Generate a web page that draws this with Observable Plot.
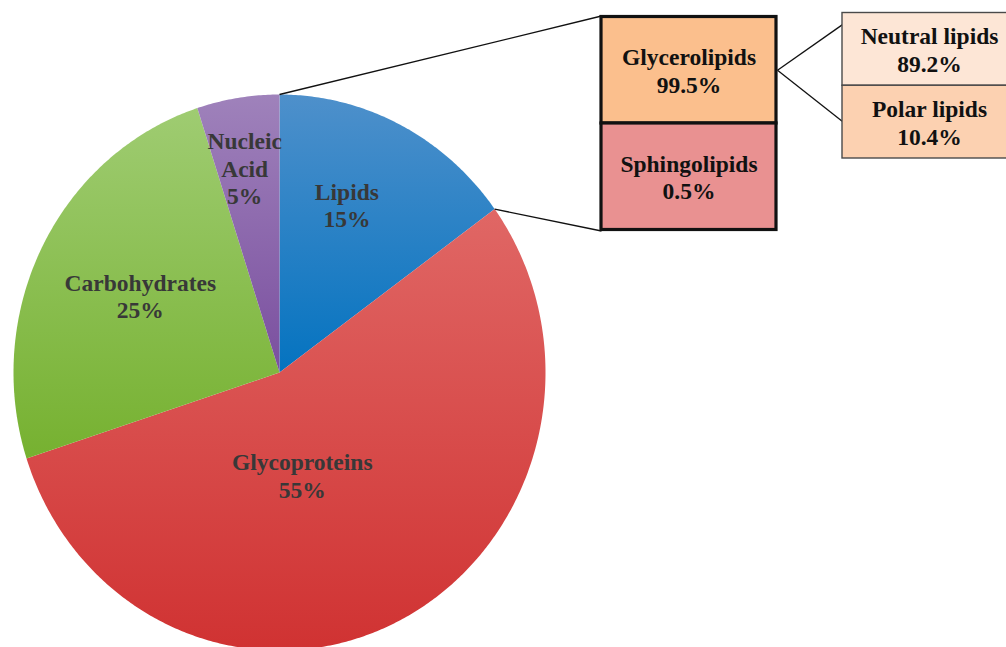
<!DOCTYPE html>
<html><head><meta charset="utf-8">
<script src="https://cdn.jsdelivr.net/npm/d3@7"></script>
<script src="https://cdn.jsdelivr.net/npm/@observablehq/plot@0.6"></script>
<style>
body{margin:0;background:#fff;}
#chart svg{display:block;}
g[aria-label="pie-shadow"]{filter:blur(2px);}
</style></head><body><div id="chart"></div>
<script>
// ---- data ----
const categories = ["Lipids", "Glycoproteins", "Carbohydrates", "Nucleic Acid"];
const categoryLabels = ["Lipids", "Glycoproteins", "Carbohydrates", "Nucleic\nAcid"];
const shares = [15, 55, 25, 5];
const lipidClasses = ["Glycerolipids", "Sphingolipids"];
const lipidShares = [99.5, 0.5];
const glyceroClasses = ["Neutral lipids", "Polar lipids"];
const glyceroShares = [89.2, 10.4];

// ---- styling / layout ----
const W = 1006, H = 647;
const pie = {cx: 279, cy: 372, rx: 266, ry: 278};
const sliceTop = ["#4e90cb", "#e06765", "#9fcc72", "#9f82bb"];
const sliceBottom = ["#0473c0", "#d03232", "#76b130", "#7a4f9f"];
const labelAngle = [22.75, 167, 297.9, 349.9];   // degrees clockwise from 12 o'clock
const labelRadius = [0.655, 0.38, 0.592, 0.747]; // fraction of radius
const lipidBox = {x1: 601, x2: 776, y1: 16.5, y2: 229.5};
const lipidFills = ["#fbbf8d", "#e99191"];
const glyceroBox = {x1: 842, x2: 1018, y1: 12.5, y2: 158};
const glyceroFills = ["#fde6d6", "#fcd1b1"];
const fontFamily = "'Liberation Serif', 'Times New Roman', serif";

const rad = d => d * Math.PI / 180;
const pt = (deg, f = 1) => [pie.cx + pie.rx * f * Math.sin(rad(deg)), pie.cy - pie.ry * f * Math.cos(rad(deg))];

// slice polygons from shares
const total = d3.sum(shares);
let acc = 0;
const slices = shares.map((v, i) => {
  const a0 = acc / total * 360; acc += v; const a1 = acc / total * 360;
  return {i, a0, a1};
});
const slicePts = slices.flatMap(({i, a0, a1}) => {
  const n = Math.max(2, Math.ceil((a1 - a0) / 0.5));
  const pts = [{i, x: pie.cx, y: pie.cy}];
  for (let k = 0; k <= n; k++) {
    const [x, y] = pt(a0 + (a1 - a0) * k / n);
    pts.push({i, x, y});
  }
  pts.push({i, x: pie.cx, y: pie.cy});
  return pts;
});
const ellipsePts = d3.range(0, 361, 1).map(a => { const [x, y] = pt(a); return {x: x + 1.5, y: y + 2}; });

const pieLabels = categories.map((c, i) => {
  const [x, y] = pt(labelAngle[i], labelRadius[i]);
  return {x, y, text: `${categoryLabels[i]}\n${shares[i]}%`};
});

const lipidH = (lipidBox.y2 - lipidBox.y1) / lipidClasses.length;
const lipidRects = lipidClasses.map((c, i) => ({
  x1: lipidBox.x1, x2: lipidBox.x2, y1: lipidBox.y1 + i * lipidH, y2: lipidBox.y1 + (i + 1) * lipidH,
  fill: lipidFills[i], text: `${c}\n${lipidShares[i]}%`
}));
const glyH = (glyceroBox.y2 - glyceroBox.y1) / glyceroClasses.length;
const glyRects = glyceroClasses.map((c, i) => ({
  x1: glyceroBox.x1, x2: glyceroBox.x2, y1: glyceroBox.y1 + i * glyH, y2: glyceroBox.y1 + (i + 1) * glyH,
  fill: glyceroFills[i], text: `${c}\n${glyceroShares[i]}%`
}));

// connectors: lipids slice edges -> lipid box corners; glycerolipids -> sub-boxes
const lipidSlice = slices[0];
const [tA, tB] = [pt(lipidSlice.a0), pt(lipidSlice.a1)];
const gMidY = (lipidRects[0].y1 + lipidRects[0].y2) / 2;
const links = [
  {x1: tA[0], y1: tA[1], x2: lipidBox.x1, y2: lipidBox.y1 - 1},
  {x1: tB[0], y1: tB[1], x2: lipidBox.x1, y2: lipidBox.y2 + 1},
  {x1: lipidBox.x2 + 1, y1: gMidY, x2: glyceroBox.x1, y2: glyceroBox.y1 + glyH * 0.16},
  {x1: lipidBox.x2 + 1, y1: gMidY, x2: glyceroBox.x1, y2: glyceroBox.y1 + glyH * 1.49}
];

const textOpts = {fontFamily, fontWeight: "bold", fontSize: 23.5, lineHeight: 1.17};

const svg = Plot.plot({
  width: W, height: H, margin: 0,
  x: {domain: [0, W], range: [0, W], axis: null},
  y: {domain: [0, H], range: [0, H], axis: null},
  style: {background: "#fff"},
  marks: [
    Plot.line(ellipsePts, {x: "x", y: "y", fill: "#9a9a9a", stroke: "none", ariaLabel: "pie-shadow"}),
    ...slices.map(s => Plot.line(slicePts.filter(d => d.i === s.i), {x: "x", y: "y", fill: `url(#grad${s.i})`, stroke: "none"})),
    Plot.link(links, {x1: "x1", y1: "y1", x2: "x2", y2: "y2", stroke: "#111", strokeWidth: 1.3}),
    Plot.rect(glyRects, {x1: "x1", x2: "x2", y1: "y1", y2: "y2", fill: "fill", stroke: "#4a4a4a", strokeWidth: 1.4}),
    Plot.rect(lipidRects, {x1: "x1", x2: "x2", y1: "y1", y2: "y2", fill: "fill", stroke: "#111", strokeWidth: 3.2}),
    Plot.text(pieLabels, {x: "x", y: "y", text: "text", fill: "#383838", ...textOpts}),
    Plot.text(lipidRects, {x: d => (d.x1 + d.x2) / 2, y: d => (d.y1 + d.y2) / 2, text: "text", fill: "#111", ...textOpts}),
    Plot.text(glyRects, {x: d => (d.x1 + d.x2) / 2 - 1, y: d => (d.y1 + d.y2) / 2, text: "text", fill: "#111", ...textOpts})
  ]
});

// gradients for slices
const defs = d3.select(svg).insert("defs", ":first-child");
const grads = defs.selectAll("linearGradient").data(slices).join("linearGradient")
  .attr("id", d => `grad${d.i}`).attr("x1", 0).attr("y1", 0).attr("x2", 0).attr("y2", 1);
grads.append("stop").attr("offset", 0).attr("stop-color", d => sliceTop[d.i]);
grads.append("stop").attr("offset", 1).attr("stop-color", d => sliceBottom[d.i]);

document.getElementById("chart").appendChild(svg);
</script></body></html>
